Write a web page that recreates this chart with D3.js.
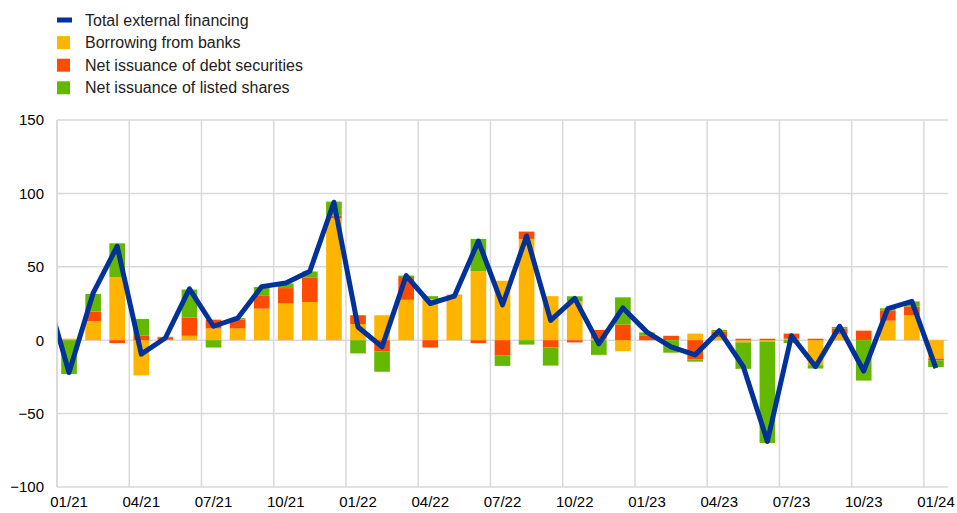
<!DOCTYPE html>
<html>
<head>
<meta charset="utf-8">
<script src="https://cdn.jsdelivr.net/npm/d3@7"></script>
<style>
  html, body { margin: 0; padding: 0; background: #fff; }
  svg { display: block; font-family: "Liberation Sans", Arial, sans-serif; }
</style>
</head>
<body>
<svg id="chart" width="957" height="513"></svg>
<script>
// ---- data ----
const months = ["01/21","02/21","03/21","04/21","05/21","06/21","07/21","08/21","09/21","10/21","11/21","12/21",
                "01/22","02/22","03/22","04/22","05/22","06/22","07/22","08/22","09/22","10/22","11/22","12/22",
                "01/23","02/23","03/23","04/23","05/23","06/23","07/23","08/23","09/23","10/23","11/23","12/23",
                "01/24"];
const tickLabels = ["01/21","04/21","07/21","10/21","01/22","04/22","07/22","10/22","01/23","04/23","07/23","10/23","01/24"];
const yTicks = [-100, -50, 0, 50, 100, 150];

const borrowingFromBanks = [1, 13, 43, -24, 0.3, 3, 8, 8, 21.5, 25, 26, 83,
                            11, 17, 27.5, 28, 30.5, 47, 40.5, 69, 30, 26.5, 1, -7.5,
                            0, 0, 4.5, 2, -1.5, -1, 1, -17, 4, 0, 13.3, 17,
                            -12.5];
const debtSecurities     = [0, 6.5, -2, 3, 1.2, 12.5, 6, 6, 8.7, 10.5, 16.5, 1.8,
                            6, -7.5, 15.5, -5, 0.5, -2, -10.5, 5, -5, -1.5, 6, 10.7,
                            3, 3, -13, 4, 1, 1, 3.5, 1, 4, 6.5, 7, 6,
                            -1.2];
const listedShares       = [-23, 12, 23, 11.5, 0.8, 19, -5, 1, 6, 3.2, 4.3, 9.6,
                            -9, -14, 1, 2, 0, 22, -7, -3, -12.3, 3.4, -10, 18.5,
                            2.3, -8.5, -1.6, 1, -18, -69, -2, -2.3, 1, -27.5, 1.4, 3.4,
                            -4.6];
// Total external financing; first value is 12/20 (only visible as the clipped line start)
const lineMonths = ["12/20"].concat(months);
const totalFinancing = [35,
                        -22, 32, 64, -9.5, 1.5, 35, 9.5, 15, 36.5, 39, 47, 94,
                        9, -4.5, 44, 25, 30, 67.5, 24, 71, 13.5, 28.5, -2.5, 22,
                        5.5, -4.5, -10, 6.5, -18, -69, 3, -18, 9.5, -21, 21.5, 26.5,
                        -19];

const seriesNames = ["Borrowing from banks", "Net issuance of debt securities", "Net issuance of listed shares"];
const lineName = "Total external financing";
const colors = { bank: "#FFB400", debt: "#FF4B00", shares: "#65B800", total: "#003299" };

// ---- layout ----
const svg = d3.select("#chart");
const plot = { left: 57, right: 948, top: 120, bottom: 487 };

const pad = 0.35;
const x = d3.scaleBand().domain(months).range([plot.left, plot.right])
  .paddingInner(pad).paddingOuter(pad / 2);
const step = x.step();
const cellLeft = m => x(m) - step * pad / 2;
const center = m => x(m) + x.bandwidth() / 2;

const y = d3.scaleLinear().domain([-100, 150]).range([plot.bottom, plot.top]);

// gridlines
const grid = svg.append("g");
grid.selectAll("line.h").data(yTicks).join("line")
  .attr("x1", plot.left).attr("x2", plot.right)
  .attr("y1", d => y(d)).attr("y2", d => y(d))
  .attr("stroke", "#d9d9d9").attr("stroke-width", 1.5);
grid.selectAll("line.v").data(tickLabels).join("line")
  .attr("x1", d => cellLeft(d)).attr("x2", d => cellLeft(d))
  .attr("y1", plot.top).attr("y2", plot.bottom)
  .attr("stroke", "#d9d9d9").attr("stroke-width", 1.5);

// y axis labels
const yAxis = d3.axisLeft(y).tickValues(yTicks).tickSize(0).tickPadding(0);
const yg = svg.append("g").attr("transform", `translate(${plot.left - 13},0)`).call(yAxis);
yg.select(".domain").remove();
yg.selectAll("text").attr("font-size", 15).attr("fill", "#000")
  .attr("font-family", "'Liberation Sans', Arial, sans-serif");

// x axis labels
const xAxis = d3.axisBottom(x).tickValues(tickLabels).tickSize(0).tickPadding(0);
const xg = svg.append("g").attr("transform", `translate(0,${plot.bottom + 9})`).call(xAxis);
xg.select(".domain").remove();
xg.selectAll("text").attr("font-size", 15).attr("fill", "#000")
  .attr("font-family", "'Liberation Sans', Arial, sans-serif");

// stacked bars
const table = months.map((m, i) => ({ month: m, bank: borrowingFromBanks[i], debt: debtSecurities[i], shares: listedShares[i] }));
const stack = d3.stack().keys(["bank", "debt", "shares"]).offset(d3.stackOffsetDiverging);
const layers = stack(table);
svg.append("g").selectAll("g").data(layers).join("g")
  .attr("fill", d => colors[d.key])
  .selectAll("rect").data(d => d).join("rect")
  .attr("x", d => x(d.data.month))
  .attr("width", x.bandwidth())
  .attr("y", d => y(Math.max(d[0], d[1])))
  .attr("height", d => Math.abs(y(d[0]) - y(d[1])));

// line
svg.append("defs").append("clipPath").attr("id", "clip")
  .append("rect").attr("x", plot.left).attr("y", 0)
  .attr("width", plot.right - plot.left).attr("height", 513);
const lineX = (m, i) => i === 0 ? center(months[0]) - step : center(m);
const line = d3.line().x((d, i) => lineX(lineMonths[i], i)).y(d => y(d));
svg.append("path").datum(totalFinancing)
  .attr("clip-path", "url(#clip)")
  .attr("d", line).attr("fill", "none")
  .attr("stroke", colors.total).attr("stroke-width", 5)
  .attr("stroke-linejoin", "round");

// left axis line
svg.append("line").attr("x1", plot.left).attr("x2", plot.left)
  .attr("y1", plot.top).attr("y2", plot.bottom)
  .attr("stroke", "#d9d9d9").attr("stroke-width", 1.5);

// legend
const legend = svg.append("g");
const legendItems = [
  { name: lineName, color: colors.total, type: "line" },
  { name: seriesNames[0], color: colors.bank, type: "box" },
  { name: seriesNames[1], color: colors.debt, type: "box" },
  { name: seriesNames[2], color: colors.shares, type: "box" }
];
legendItems.forEach((it, i) => {
  const cy = 20 + i * 22.6;
  if (it.type === "line") {
    legend.append("rect").attr("x", 57).attr("y", cy - 2.5).attr("width", 15).attr("height", 5).attr("fill", it.color);
  } else {
    legend.append("rect").attr("x", 57).attr("y", cy - 6.5).attr("width", 13).attr("height", 13).attr("fill", it.color);
  }
  legend.append("text").attr("x", 85).attr("y", cy).attr("dy", "0.35em")
    .attr("font-size", 16).attr("fill", "#222").text(it.name);
});
</script>
</body>
</html>
